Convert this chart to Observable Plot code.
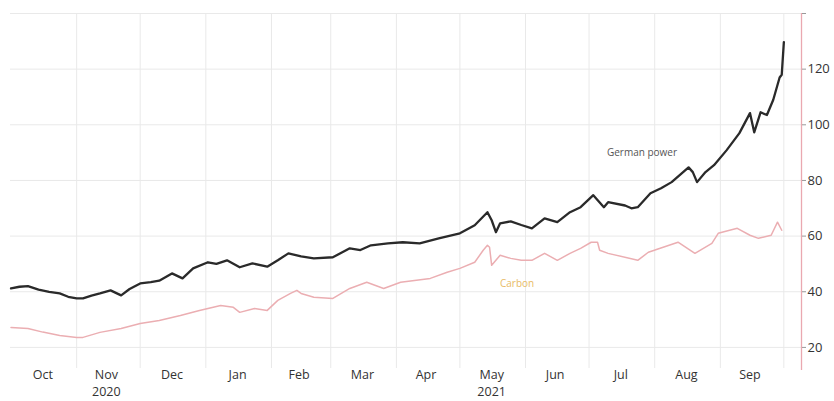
<!DOCTYPE html>
<html>
<head>
<meta charset="utf-8">
<script src="https://cdn.jsdelivr.net/npm/d3@7"></script>
<script src="https://cdn.jsdelivr.net/npm/@observablehq/plot@0.6"></script>
<style>
  html, body { margin: 0; padding: 0; background: #fff; }
  #chart svg { display: block; }
</style>
</head>
<body>
<div id="chart"></div>
<script>
// ---- Data ----
const powerDates = ["2020-10-01","2020-10-05","2020-10-09","2020-10-14","2020-10-19","2020-10-24","2020-10-28","2020-11-01","2020-11-04","2020-11-08","2020-11-12","2020-11-17","2020-11-22","2020-11-26","2020-12-01","2020-12-06","2020-12-10","2020-12-16","2020-12-21","2020-12-26","2021-01-02","2021-01-06","2021-01-11","2021-01-17","2021-01-23","2021-01-30","2021-02-04","2021-02-09","2021-02-15","2021-02-21","2021-03-02","2021-03-10","2021-03-15","2021-03-20","2021-03-28","2021-04-04","2021-04-12","2021-04-21","2021-05-01","2021-05-08","2021-05-14","2021-05-16","2021-05-18","2021-05-20","2021-05-25","2021-05-30","2021-06-04","2021-06-10","2021-06-16","2021-06-22","2021-06-27","2021-07-03","2021-07-08","2021-07-10","2021-07-18","2021-07-21","2021-07-24","2021-07-30","2021-08-04","2021-08-09","2021-08-17","2021-08-19","2021-08-21","2021-08-25","2021-08-29","2021-09-04","2021-09-10","2021-09-15","2021-09-17","2021-09-20","2021-09-23","2021-09-26","2021-09-29","2021-09-30","2021-10-01"];
const powerValues = [41.2,41.8,42.0,40.8,40.0,39.4,38.2,37.6,37.6,38.6,39.4,40.5,38.7,41.0,43.0,43.5,44.0,46.6,44.8,48.4,50.6,50.0,51.3,48.8,50.2,49.0,51.3,53.8,52.7,52.0,52.4,55.6,55.0,56.7,57.4,57.8,57.4,59.2,61.0,63.9,68.6,65.7,61.4,64.6,65.3,64.0,62.8,66.4,65.0,68.6,70.4,74.7,70.4,72.2,71.0,70.0,70.4,75.4,77.2,79.4,84.7,83.0,79.4,83.0,85.5,90.9,97.0,104.2,97.3,104.5,103.5,109.0,117.0,118.0,129.7];

const carbonDates = ["2020-10-01","2020-10-09","2020-10-16","2020-10-24","2020-11-01","2020-11-04","2020-11-12","2020-11-22","2020-12-01","2020-12-10","2020-12-20","2020-12-29","2021-01-08","2021-01-14","2021-01-17","2021-01-24","2021-01-30","2021-02-04","2021-02-10","2021-02-13","2021-02-15","2021-02-21","2021-03-02","2021-03-10","2021-03-18","2021-03-26","2021-04-03","2021-04-17","2021-04-25","2021-05-01","2021-05-08","2021-05-12","2021-05-14","2021-05-15","2021-05-16","2021-05-20","2021-05-25","2021-05-30","2021-06-04","2021-06-10","2021-06-16","2021-06-22","2021-06-27","2021-07-02","2021-07-05","2021-07-06","2021-07-10","2021-07-24","2021-07-29","2021-08-12","2021-08-20","2021-08-28","2021-08-31","2021-09-09","2021-09-15","2021-09-19","2021-09-25","2021-09-28","2021-09-30"];
const carbonValues = [27.2,26.8,25.5,24.3,23.6,23.6,25.4,26.8,28.6,29.7,31.5,33.3,35.1,34.4,32.6,34.0,33.3,36.9,39.4,40.5,39.4,38.0,37.6,41.2,43.4,41.2,43.4,44.8,47.0,48.4,50.6,54.9,56.7,56.0,49.5,53.1,52.0,51.3,51.3,53.8,51.3,53.8,55.6,57.8,57.8,54.9,53.8,51.3,54.2,57.8,53.8,57.4,61.0,62.8,60.3,59.2,60.3,65.0,62.1];

const yTicks = [20, 40, 60, 80, 100, 120, 140];
const monthStarts = ["2020-11-01","2020-12-01","2021-01-01","2021-02-01","2021-03-01","2021-04-01","2021-05-01","2021-06-01","2021-07-01","2021-08-01","2021-09-01","2021-10-01"];
const monthLabelDates = ["2020-10-16","2020-11-15","2020-12-16","2021-01-16","2021-02-14","2021-03-16","2021-04-15","2021-05-16","2021-06-15","2021-07-16","2021-08-16","2021-09-15"];
const yearLabels = ["2020", "2021"];
const yearLabelDates = ["2020-11-15", "2021-05-16"];
const seriesLabels = ["German power", "Carbon"];
const seriesLabelDates = ["2021-07-26", "2021-05-28"];
const seriesLabelValues = [89.8, 42.7];

// ---- Build tables ----
const parse = d3.utcParse("%Y-%m-%d");
const power = powerDates.map((d, i) => ({date: parse(d), value: powerValues[i]}));
const carbon = carbonDates.map((d, i) => ({date: parse(d), value: carbonValues[i]}));
const years = yearLabels.map((t, i) => ({date: parse(yearLabelDates[i]), text: t}));
const labels = seriesLabels.map((t, i) => ({date: parse(seriesLabelDates[i]), value: seriesLabelValues[i], text: t}));

const xDomain = [new Date(Date.UTC(2020, 8, 30, 18)), new Date(Date.UTC(2021, 9, 9, 8))];
const yDomain = [13.5, 140];

const chart = Plot.plot({
  width: 834,
  height: 401,
  marginLeft: 10,
  marginRight: 33,
  marginTop: 13,
  marginBottom: 36,
  style: {fontFamily: "'Open Sans', sans-serif", fontSize: "13px", color: "#333", background: "#fff"},
  x: {type: "utc", domain: xDomain, axis: null, label: null},
  y: {domain: yDomain, axis: null, label: null},
  marks: [
    Plot.gridY(yTicks, {stroke: "#e9e9e9", strokeOpacity: 1}),
    Plot.gridX(monthStarts.map(parse), {stroke: "#e9e9e9", strokeOpacity: 1, insetBottom: -3}),
    Plot.axisX(monthLabelDates.map(parse), {tickFormat: d3.utcFormat("%b"), tickSize: 0, tickPadding: 5, fontSize: 12.5, fill: "#333", label: null}),
    Plot.text(years, {x: "date", text: "text", frameAnchor: "bottom", dy: 30, fontSize: 12.5, fill: "#333"}),
    Plot.ruleX([xDomain[1]], {stroke: "#eaa8b0", strokeWidth: 1.3, insetBottom: -5}),
    Plot.axisY(yTicks, {anchor: "right", tickSize: 4, tickPadding: 2, stroke: "#999", fontSize: 13, fill: "#333", label: null, tickFormat: d => d === 140 ? "" : d}),
    Plot.line(carbon, {x: "date", y: "value", stroke: "#ebaeb2", strokeWidth: 1.5}),
    Plot.line(power, {x: "date", y: "value", stroke: "#2a2a2a", strokeWidth: 2.3}),
    Plot.text(labels, {x: "date", y: "value", text: "text", fontSize: 10, fill: (d) => d.text === "Carbon" ? "#e8bb66" : "#555"})
  ]
});
document.getElementById("chart").appendChild(chart);
</script>
</body>
</html>
